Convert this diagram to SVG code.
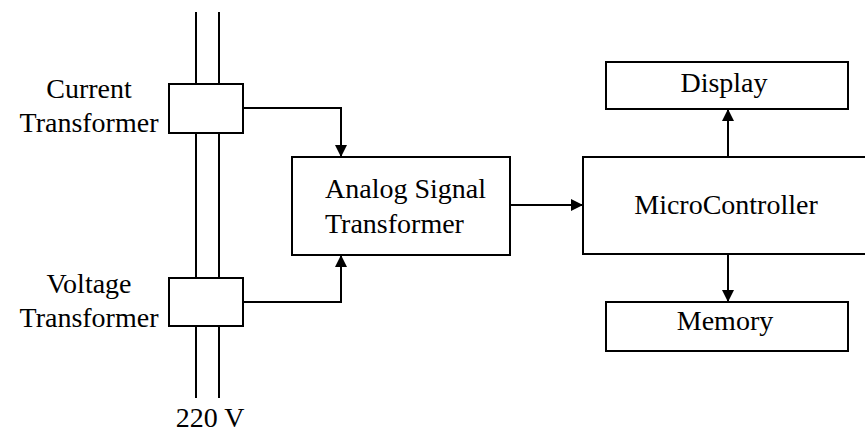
<svg xmlns="http://www.w3.org/2000/svg" width="865" height="434" viewBox="0 0 865 434">
<defs>
<marker id="ah" viewBox="0 0 12 12" refX="12" refY="6" markerWidth="12" markerHeight="12" markerUnits="userSpaceOnUse" orient="auto">
<path d="M0,0 L12,6 L0,12 z" fill="#000"/>
</marker>
<style>
.box{fill:#fff;stroke:#000;stroke-width:2}
.w{stroke:#000;stroke-width:2;fill:none}
.c{stroke:#000;stroke-width:2;fill:none;marker-end:url(#ah)}
text{font-family:"Liberation Serif","Times New Roman",serif;font-size:28px;fill:#000;text-anchor:middle}
</style>
</defs>
<rect width="865" height="434" fill="#fff"/>
<g id="wires">
<line class="w" x1="196" y1="12" x2="196" y2="398"/>
<line class="w" x1="219" y1="12" x2="219" y2="398"/>
</g>
<g id="connectors">
<polyline class="c" points="243,108 341,108 341,157"/>
<polyline class="c" points="243,302 341,302 341,255"/>
<line class="c" x1="510" y1="205" x2="583" y2="205"/>
<line class="c" x1="728" y1="157" x2="728" y2="109"/>
<line class="c" x1="728" y1="254" x2="728" y2="302"/>
</g>
<g id="current-transformer">
<rect class="box" x="169" y="84" width="74" height="49"/>
<text x="89" y="98">Current</text>
<text x="89" y="132">Transformer</text>
</g>
<g id="voltage-transformer">
<rect class="box" x="169" y="278" width="74" height="48"/>
<text x="89" y="293">Voltage</text>
<text x="89" y="327">Transformer</text>
</g>
<g id="analog-signal-transformer">
<rect class="box" x="292" y="157" width="218" height="98"/>
<text x="325" y="198" style="text-anchor:start">Analog Signal</text>
<text x="325" y="233" style="text-anchor:start">Transformer</text>
</g>
<g id="microcontroller">
<rect class="box" x="583" y="157" width="290" height="97"/>
<text x="726" y="214">MicroController</text>
</g>
<g id="display">
<rect class="box" x="606" y="62" width="242" height="47"/>
<text x="724" y="92">Display</text>
</g>
<g id="memory">
<rect class="box" x="606" y="302" width="242" height="49"/>
<text x="725" y="330">Memory</text>
</g>
<g id="label-220v">
<text x="210" y="427">220 V</text>
</g>
</svg>
